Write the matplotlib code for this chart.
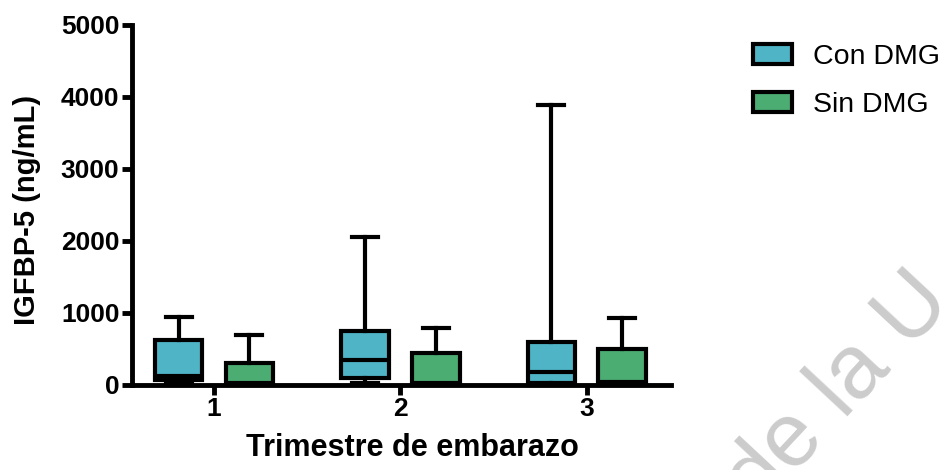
import matplotlib
matplotlib.use("Agg")
import matplotlib.pyplot as plt
from matplotlib.patches import Patch

plt.rcParams["font.family"] = ["Liberation Sans", "DejaVu Sans"]

trimesters = ["1", "2", "3"]
groups = ["Con DMG", "Sin DMG"]
colors = ["#4fb4c6", "#4cad73"]

# box stats (ng/mL)
con_whislo = [20, 30, 10]
con_q1 = [70, 97, 20]
con_med = [130, 343, 185]
con_q3 = [625, 755, 600]
con_whishi = [950, 2060, 3890]

sin_whislo = [0, 0, 0]
sin_q1 = [10, 10, 20]
sin_med = [20, 30, 45]
sin_q3 = [310, 450, 495]
sin_whishi = [700, 790, 925]


def make_stats(lo, q1, med, q3, hi):
    return [dict(whislo=a, q1=b, med=c, q3=d, whishi=e, fliers=[])
            for a, b, c, d, e in zip(lo, q1, med, q3, hi)]


def main():
    fig = plt.figure(figsize=(9.46, 4.70), dpi=100)
    ax = fig.add_axes([0.1395, 0.181, 0.5695, 0.766])

    series = [
        make_stats(con_whislo, con_q1, con_med, con_q3, con_whishi),
        make_stats(sin_whislo, sin_q1, sin_med, sin_q3, sin_whishi),
    ]
    offsets = [-0.19, 0.19]
    lw = 3
    for stats, off, col in zip(series, offsets, colors):
        pos = [i + 1 + off for i in range(len(trimesters))]
        ax.bxp(stats, positions=pos, widths=0.255, capwidths=0.14,
               showfliers=False, patch_artist=True,
               boxprops=dict(facecolor=col, edgecolor="black", linewidth=lw),
               medianprops=dict(color="black", linewidth=lw),
               whiskerprops=dict(color="black", linewidth=lw),
               capprops=dict(color="black", linewidth=lw))

    ax.set_xlim(0.56, 3.45)
    ax.set_ylim(0, 5000)
    ax.set_yticks(range(0, 5001, 1000))
    ax.set_xticks(range(1, len(trimesters) + 1))
    ax.set_xticklabels(trimesters)

    for side in ["top", "right"]:
        ax.spines[side].set_visible(False)
    for side in ["left", "bottom"]:
        ax.spines[side].set_linewidth(3.5)
    ax.tick_params(axis="both", width=3.5, length=7, labelsize=19, pad=2)
    for lab in ax.get_xticklabels() + ax.get_yticklabels():
        lab.set_fontweight("bold")

    ax.set_ylabel("IGFBP-5 (ng/mL)", fontsize=21, fontweight="bold", labelpad=14)
    ax.yaxis.label.set_y(0.486)
    ax.set_xlabel("Trimestre de embarazo", fontsize=22, fontweight="bold", labelpad=8)
    ax.xaxis.label.set_x(0.52)

    handles = [Patch(facecolor=c, edgecolor="black", linewidth=3, label=g)
               for c, g in zip(colors, groups)]
    fig.legend(handles=handles, loc="upper left", bbox_to_anchor=(727 / 946, 1 - 18 / 470),
               frameon=False, fontsize=20.5, handlelength=1.4, handleheight=0.7,
               labelspacing=0.78, handletextpad=0.73, borderpad=0.4)

    # watermark (only this part falls inside the picture)
    fig.text(758 / 946, 1 - 512 / 470, "de la U", rotation=47,
             rotation_mode="anchor", ha="left", va="baseline",
             fontsize=65, color="#cccccc", zorder=0)

    fig.savefig("out.png", dpi=100)
    plt.close(fig)


if __name__ == "__main__":
    main()
